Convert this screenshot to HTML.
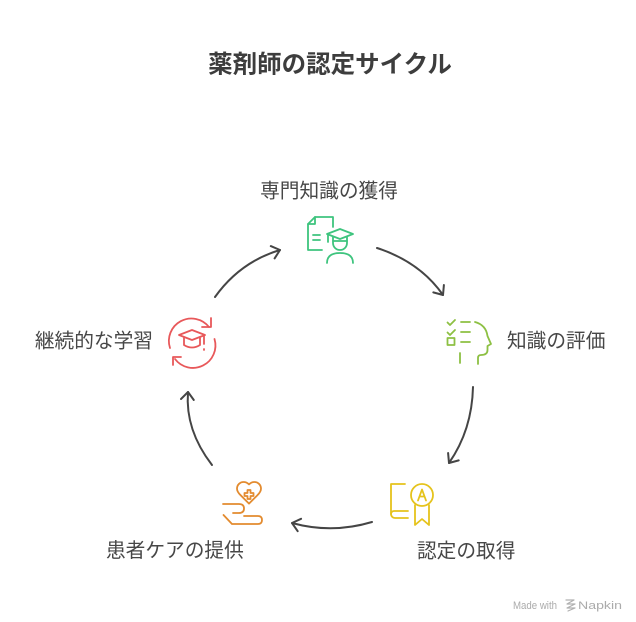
<!DOCTYPE html>
<html>
<head>
<meta charset="utf-8">
<style>
  html, body { margin:0; padding:0; background:#ffffff; }
  body { width:636px; height:622px; overflow:hidden; }
  svg { display:block; }
  .lbl { font-family: "Liberation Sans", "Noto Sans CJK JP", sans-serif; font-size:19.7px; fill:#474747; }
  .ttl { font-family: "Liberation Sans", "Noto Sans CJK JP", sans-serif; font-size:24.5px; font-weight:bold; fill:#3d3d3d; }
  .wm { font-family: "Liberation Sans", "DejaVu Sans", sans-serif; font-size:11px; fill:#ababab; }
</style>
</head>
<body>
<svg width="636" height="622" viewBox="0 0 636 622" xmlns="http://www.w3.org/2000/svg">
  <rect width="636" height="622" fill="#ffffff"/>

  <!-- Title -->
  <text class="ttl" x="330" y="65" text-anchor="middle" dominant-baseline="central">薬剤師の認定サイクル</text>

  <!-- Arrows -->
  <g fill="none" stroke="#454545" stroke-width="2" stroke-linecap="round" stroke-linejoin="round">
    <path d="M215 297 Q240 262 280 250"/>
    <path d="M270.8 246.1 L280 250 L274.6 258.4"/>

    <path d="M377 248 Q420 262 443 295"/>
    <path d="M433.3 292.4 L443 295 L443.9 285"/>

    <path d="M473 387 Q472 430 449 463"/>
    <path d="M458.7 460.4 L449 463 L448.1 453"/>

    <path d="M372 522 Q332 534 292 523"/>
    <path d="M301.1 518.8 L292 523 L297.7 531.2"/>

    <path d="M212 465 Q185 430 188 392"/>
    <path d="M181 399 L188 392 L193.8 400"/>
  </g>

  <!-- Node 1: 専門知識の獲得 (green) -->
  <text class="lbl" x="329" y="191.5" text-anchor="middle" dominant-baseline="central">専門知識の獲得</text>
  <g fill="none" stroke="#3ec47e" stroke-width="1.8" stroke-linecap="round" stroke-linejoin="round">
    <path d="M315 217 H333 V227"/>
    <path d="M308 224 L315 217 V224 H308"/>
    <path d="M308 224 V250 H322"/>
    <path d="M313 235 H320 M313 240 H320"/>
    <path d="M327 234 L340 229 L353 234 L340 239 Z"/>
    <path d="M328 235 V242"/>
    <path d="M333 237 V243 A7 7 0 0 0 347 243 V237"/>
    <path d="M333 241 H347"/>
    <path d="M327 263 Q327 253 340 253 Q353 253 353 263"/>
  </g>

  <!-- Node 2: 知識の評価 (lime) -->
  <text class="lbl" x="507" y="341.5" dominant-baseline="central">知識の評価</text>
  <g fill="none" stroke="#8dc043" stroke-width="1.8" stroke-linecap="round" stroke-linejoin="round">
    <path d="M447.5 322.5 L450 325 L455 320"/>
    <path d="M447.5 332.5 L450 335 L455 330"/>
    <rect x="447.5" y="338" width="7" height="7"/>
    <path d="M461 322 H470 M461 332 H470 M461 342 H470"/>
    <path d="M460 353 V363"/>
    <path d="M475 322 Q486 325 487.5 336 L491 344 L487.5 346 V350 Q487.5 355 481 355 Q478 355 478 358 V364"/>
  </g>

  <!-- Node 3: 認定の取得 (yellow) -->
  <text class="lbl" x="417" y="551.5" dominant-baseline="central">認定の取得</text>
  <g fill="none" stroke="#e5c31c" stroke-width="1.8" stroke-linecap="round" stroke-linejoin="round">
    <path d="M405 484 H391 V514 A4 4 0 0 0 395 518 H408"/>
    <path d="M391 514 A3 3 0 0 1 394 511 H408"/>
    <circle cx="422" cy="495" r="11"/>
    <path d="M418 500.5 L422 489.5 L426 500.5 M419.5 496.5 H424.5"/>
    <path d="M415 505 V525 L422 519 L429 525 V505"/>
  </g>

  <!-- Node 4: 患者ケアの提供 (orange) -->
  <text class="lbl" x="106" y="551" dominant-baseline="central">患者ケアの提供</text>
  <g fill="none" stroke="#e38b2f" stroke-width="1.8" stroke-linecap="round" stroke-linejoin="round">
    <g transform="translate(234.6 478.4) scale(1.2)">
      <path stroke-width="1.5" d="M19 14c1.49-1.46 3-3.21 3-5.5A5.5 5.5 0 0 0 16.5 3c-1.76 0-3 .5-4.5 2-1.5-1.5-2.74-2-4.5-2A5.5 5.5 0 0 0 2 8.5c0 2.3 1.5 4.05 3 5.5l7 7Z"/>
    </g>
    <path d="M247.5 490 h3 v3 h3 v3 h-3 v3 h-3 v-3 h-3 v-3 h3 z"/>
    <path d="M223 504 H239 Q244 504 244 508.5 Q244 513 239 513 H233"/>
    <path d="M223.5 515 L232 524 H258 Q262 524 262 520 Q262 516 258 516 H244"/>
  </g>

  <!-- Node 5: 継続的な学習 (red) -->
  <text class="lbl" x="153" y="341.5" text-anchor="end" dominant-baseline="central">継続的な学習</text>
  <g fill="none" stroke="#e8585a" stroke-width="1.8" stroke-linecap="round" stroke-linejoin="round">
    <path d="M170 348 A22.5 22.5 0 0 1 209 327"/>
    <path d="M211 318 V327 H202"/>
    <path d="M214.5 339 A22.5 22.5 0 0 1 175 359"/>
    <path d="M181 357 H173 V365"/>
    <path d="M179 335 L192 330 L205 335 L192 340 Z"/>
    <path d="M184 338 V345 Q192 350 200 345 V338"/>
    <path d="M204 336 V344"/>
    <path d="M204 349 V350"/>
  </g>

  <!-- Watermark -->
  <text class="wm" x="513" y="609" textLength="44" lengthAdjust="spacingAndGlyphs">Made with</text>
  <g fill="none" stroke="#b0b0b0" stroke-width="1.2" stroke-linecap="round" stroke-linejoin="round">
    <path d="M566 600 L574 600 L567 604 L575 604 L567 608 L575 608 L568 611"/>
  </g>
  <text class="wm" x="578" y="609" textLength="44" lengthAdjust="spacingAndGlyphs">Napkin</text>
</svg>
</body>
</html>
